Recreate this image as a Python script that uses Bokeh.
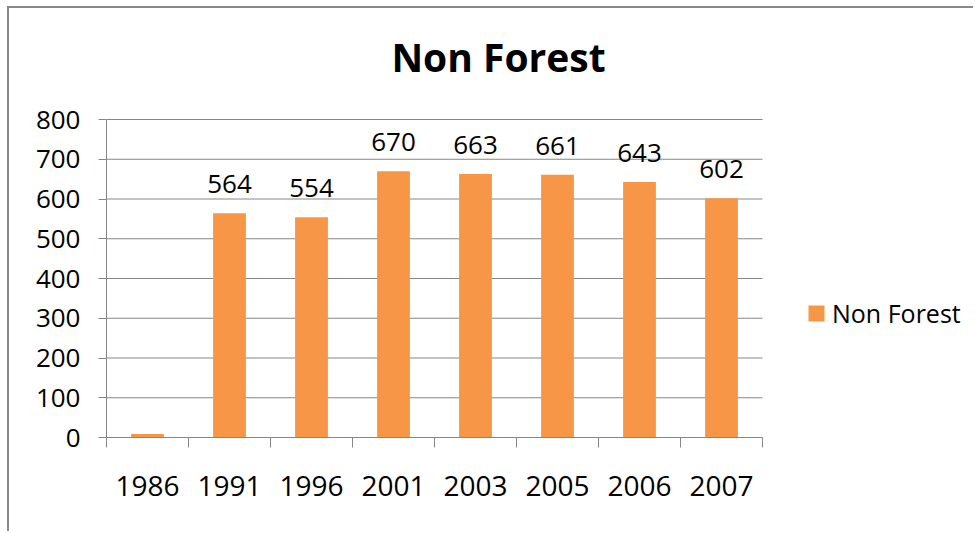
from bokeh.plotting import figure
from bokeh.models import (Range1d, FixedTicker, LabelSet, Legend, LegendItem,
                          ColumnDataSource, Label)
from bokeh.core.properties import value
from bokeh.embed import file_html
from bokeh.resources import INLINE

# ---- data ----
years = ["1986", "1991", "1996", "2001", "2003", "2005", "2006", "2007"]
non_forest = [9, 564, 554, 670, 663, 661, 643, 602]
data_labels = ["", "564", "554", "670", "663", "661", "643", "602"]
y_ticks = [0, 100, 200, 300, 400, 500, 600, 700, 800]
series_name = "Non Forest"
chart_title = "Non Forest"

BAR = "#F79646"
GRAY = "#868686"
FONT = "Open Sans"

# ---- layout (pixels) ----
W, H = 966, 525            # canvas
LEFT, BOTTOM = 97, 96      # space for the axes
PLOT_W, PLOT_H = 656, 318  # the part of the frame that holds the bars
FRAME_W, FRAME_H = W - LEFT, H - BOTTOM
n = len(years)
y_max = y_ticks[-1]
px_x = PLOT_W / n          # pixels per category
px_y = PLOT_H / y_max      # pixels per unit

pos = [i + 0.5 for i in range(n)]
src = ColumnDataSource(dict(x=pos, top=non_forest, label=data_labels))
grid_src = ColumnDataSource(dict(x0=[0] * (len(y_ticks) - 1), x1=[n] * (len(y_ticks) - 1),
                                 y=y_ticks[1:]))

p = figure(width=W, height=H, output_backend="svg", toolbar_location=None,
           x_range=Range1d(0, FRAME_W / px_x), y_range=Range1d(0, FRAME_H / px_y),
           min_border_left=LEFT, min_border_right=0, min_border_top=0,
           min_border_bottom=BOTTOM,
           styles={"margin-left": "7px", "margin-top": "6px",
                   "border-left": "2px solid #898989", "border-top": "2px solid #898989"})
p.outline_line_color = None
p.background_fill_color = "white"
p.border_fill_color = "white"
p.title.visible = False

# grid (limited to the plotting area)
p.xgrid.grid_line_color = None
p.ygrid.grid_line_color = None
p.segment(x0="x0", x1="x1", y0="y", y1="y", source=grid_src, line_color=GRAY, line_width=1)

# y axis
p.yaxis.bounds = (y_ticks[0], y_max)
p.yaxis.ticker = FixedTicker(ticks=y_ticks)
p.yaxis.axis_line_color = GRAY
p.yaxis.major_tick_line_color = GRAY
p.yaxis.major_tick_in = 0
p.yaxis.major_tick_out = 8
p.yaxis.minor_tick_line_color = None
p.yaxis.major_label_standoff = 18
p.yaxis.major_label_text_font = FONT
p.yaxis.major_label_text_font_size = "26px"
p.yaxis.major_label_text_color = "black"

# x axis: labels at category centres, tick marks at category boundaries
p.xaxis.bounds = (0, n)
p.xaxis.ticker = FixedTicker(ticks=pos, minor_ticks=list(range(n + 1)))
p.xaxis.major_label_overrides = {float(x): y for x, y in zip(pos, years)}
p.xaxis.axis_line_color = GRAY
p.xaxis.major_tick_line_color = None
p.xaxis.major_tick_in = 0
p.xaxis.major_tick_out = 0
p.xaxis.minor_tick_line_color = GRAY
p.xaxis.minor_tick_in = 0
p.xaxis.minor_tick_out = 10
p.xaxis.major_label_standoff = 28
p.xaxis.major_label_text_font = FONT
p.xaxis.major_label_text_font_size = "28px"
p.xaxis.major_label_text_color = "black"

r = p.vbar(x="x", top="top", width=0.4, source=src, fill_color=BAR, line_color=None)

labels = LabelSet(x="x", y="top", text="label", source=src, text_align="center",
                  text_baseline="alphabetic", y_offset=20,
                  text_font=value(FONT), text_font_size=value("26px"),
                  text_color="black")
p.add_layout(labels)

# title: centred 392px right of the y axis, near the top of the chart
title = Label(x=392 / px_x, y=381 / px_y, text=chart_title,
              text_align="center", text_baseline="alphabetic", text_font=FONT,
              text_font_size="39px", text_font_style="bold", text_color="black")
p.add_layout(title)

legend = Legend(items=[LegendItem(label=series_name, renderers=[r])],
                location=(PLOT_W + 44, 107), margin=0, padding=0,
                border_line_color=None, background_fill_alpha=0,
                glyph_width=20, glyph_height=20, label_standoff=6,
                label_text_font=FONT, label_text_font_size="25px",
                label_text_color="black")
p.add_layout(legend)

open("out.html", "w").write(file_html(p, INLINE))
